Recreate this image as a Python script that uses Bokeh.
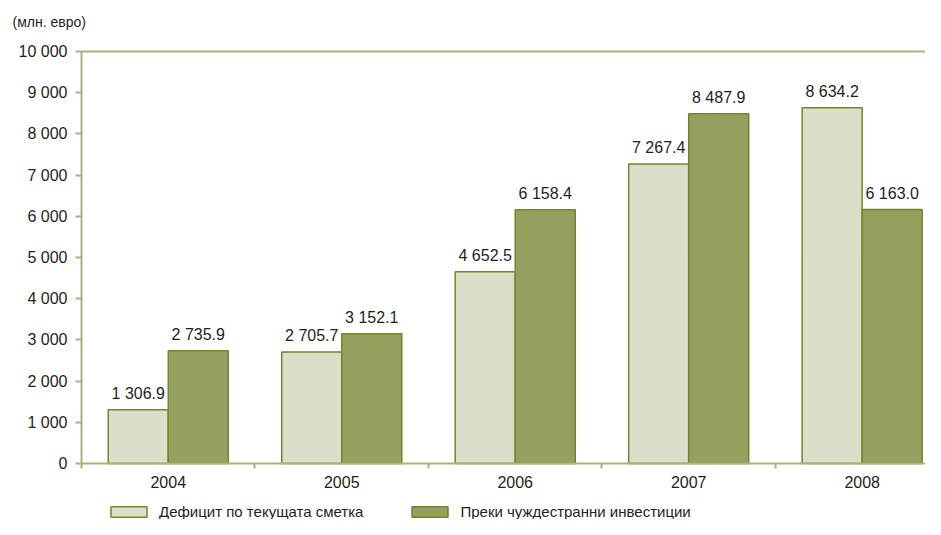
from bokeh.plotting import figure
from bokeh.models import (ColumnDataSource, Range1d, FixedTicker, LabelSet, Label,
                          LinearAxis, Legend, LegendItem)
from bokeh.core.properties import value
from bokeh.transform import dodge
from bokeh.embed import file_html
from bokeh.resources import INLINE

years = ["2004", "2005", "2006", "2007", "2008"]
deficit = [1306.9, 2705.7, 4652.5, 7267.4, 8634.2]
fdi = [2735.9, 3152.1, 6158.4, 8487.9, 6163.0]
y_ticks = [0, 1000, 2000, 3000, 4000, 5000, 6000, 7000, 8000, 9000, 10000]
series_names = ["Дефицит по текущата сметка", "Преки чуждестранни инвестиции"]
unit_label = "(млн. евро)"

LIGHT = "#d9dfc8"
DARK = "#95a05f"
EDGE = "#72852f"
AXIS = "#a8b37d"
TEXT = "#231f20"
FONT = "Liberation Sans"


def fmt(v):
    return f"{v:,.1f}".replace(",", " ")


centers = [i + 0.5 for i in range(len(years))]
src = ColumnDataSource(dict(
    x=centers, year=years, deficit=deficit, fdi=fdi,
    deficit_lbl=[fmt(v) for v in deficit], fdi_lbl=[fmt(v) for v in fdi],
))

# the frame fills the whole canvas; category 0 boundary sits at 81 px,
# value 10 000 at 51 px and value 0 at 463 px
X_END = 4.865
p = figure(width=925, height=519, output_backend="svg", toolbar_location=None,
           x_range=Range1d(-0.467, X_END), y_range=Range1d(-1359, 11238),
           min_border_left=0, min_border_right=0, min_border_top=0,
           min_border_bottom=0)
p.outline_line_color = None
p.grid.visible = False
p.background_fill_color = "white"
p.border_fill_color = "white"

BW = 0.346
r1 = p.vbar(x=dodge("x", -BW / 2, range=p.x_range), top="deficit", width=BW, source=src,
            fill_color=LIGHT, line_color=EDGE, line_width=1.5)
r2 = p.vbar(x=dodge("x", BW / 2, range=p.x_range), top="fdi", width=BW, source=src,
            fill_color=DARK, line_color=EDGE, line_width=1.5)

for col, top, off in (("deficit_lbl", "deficit", -BW / 2), ("fdi_lbl", "fdi", BW / 2)):
    p.add_layout(LabelSet(x=dodge("x", off, range=p.x_range), y=top, text=col, source=src,
                          text_align="center", text_baseline="alphabetic", y_offset=11,
                          text_font=value(FONT), text_font_size=value("16px"),
                          text_color=TEXT))

p.add_layout(Label(x=0, y=y_ticks[-1], x_offset=-69, y_offset=22, text=unit_label,
                   text_font=FONT, text_font_size="14px", text_color=TEXT,
                   text_baseline="bottom", text_align="left"))

# x axis, pinned at value 0
xa = p.xaxis[0]
xa.fixed_location = 0
xa.bounds = (0, X_END)
xa.ticker = FixedTicker(ticks=centers, minor_ticks=[0, 1, 2, 3, 4, 5])
xa.major_label_overrides = {c: y for c, y in zip(centers, years)}
xa.major_tick_out = 0
xa.major_tick_in = 0
xa.minor_tick_out = 5
xa.minor_tick_in = 0
xa.minor_tick_line_color = AXIS
xa.minor_tick_line_width = 2
xa.axis_line_color = AXIS
xa.axis_line_width = 2
xa.major_label_standoff = 7
xa.major_label_text_font = FONT
xa.major_label_text_font_size = "16px"
xa.major_label_text_color = TEXT

# top rule at 10 000
top_axis = LinearAxis(fixed_location=y_ticks[-1], bounds=(0, X_END),
                      ticker=FixedTicker(ticks=[], minor_ticks=[]),
                      axis_line_color=AXIS, axis_line_width=2,
                      major_tick_line_color=None, minor_tick_line_color=None,
                      major_label_text_alpha=0)
p.add_layout(top_axis, "above")

# y axis, pinned at the left category boundary
ya = p.yaxis[0]
ya.fixed_location = 0
ya.bounds = (y_ticks[0], y_ticks[-1])
ya.ticker = FixedTicker(ticks=y_ticks, minor_ticks=[])
ya.major_label_overrides = {t: f"{t:,}".replace(",", " ") for t in y_ticks}
ya.major_tick_out = 6
ya.major_tick_in = 0
ya.major_tick_line_color = AXIS
ya.major_tick_line_width = 2
ya.axis_line_color = AXIS
ya.axis_line_width = 2
ya.major_label_standoff = 8
ya.major_label_text_font = FONT
ya.major_label_text_font_size = "16px"
ya.major_label_text_color = TEXT

lg = Legend(items=[LegendItem(label=series_names[0], renderers=[r1]),
                   LegendItem(label=series_names[1], renderers=[r2])],
            location=(106, -1), orientation="horizontal", padding=0, margin=0,
            spacing=44, border_line_color=None, background_fill_alpha=0,
            glyph_width=45, glyph_height=13, label_standoff=8,
            label_text_font=FONT, label_text_font_size="15px",
            label_text_color=TEXT)
p.add_layout(lg, "center")

open("out.html", "w").write(file_html(p, INLINE))
